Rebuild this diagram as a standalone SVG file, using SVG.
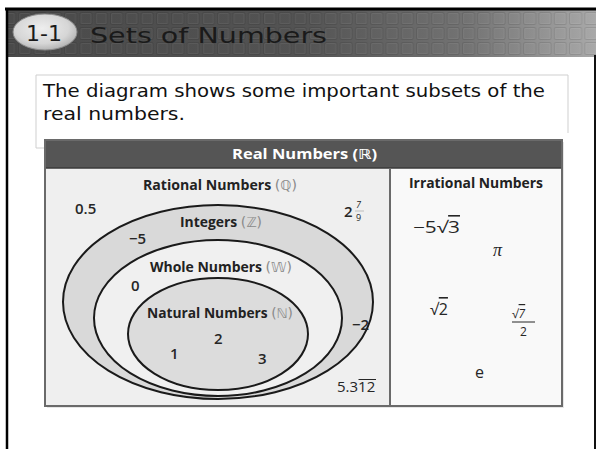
<svg xmlns="http://www.w3.org/2000/svg" width="596" height="449" viewBox="0 0 596 449">
<defs>
<linearGradient id="hg" x1="0" y1="0" x2="1" y2="0">
<stop offset="0" stop-color="#4a4a4a"/>
<stop offset="0.5" stop-color="#535353"/>
<stop offset="0.78" stop-color="#737373"/>
<stop offset="1" stop-color="#a9a9a9"/>
</linearGradient>
<radialGradient id="pg" cx="0.45" cy="0.4" r="0.6">
<stop offset="0" stop-color="#eeeeee"/>
<stop offset="0.7" stop-color="#d6d6d6"/>
<stop offset="1" stop-color="#b5b5b5"/>
</radialGradient>
<pattern id="grid" patternUnits="userSpaceOnUse" x="2" y="11" width="15.3" height="15">
<rect x="1.5" y="1.5" width="12" height="12" rx="1.5" fill="none" stroke="#000" stroke-opacity="0.1"/>
<rect x="2.5" y="2.5" width="10" height="10" rx="1" fill="none" stroke="#fff" stroke-opacity="0.06"/>
</pattern>
<style>
.ttl{font-family:"DejaVu Sans",Verdana,sans-serif;fill:#1a1a1a}
.body{font-family:"DejaVu Sans",Verdana,sans-serif;font-size:17.5px;fill:#111}
.lbl{font-family:"Open Sans","Noto Sans",sans-serif;font-weight:bold;font-size:13.5px;fill:#222}
.sym{font-family:"DejaVu Sans",sans-serif;font-weight:normal;fill:#8a8a8a}
.num{font-family:"Open Sans","Noto Sans",sans-serif;font-size:15px;font-weight:600;fill:#262626}
.irr{font-family:"Open Sans","Noto Sans",sans-serif;font-size:16px;fill:#262626}
.ov{text-decoration:overline}
.ell{stroke:#1a1a1a;stroke-width:2}
</style>
</defs>

<g id="header">
<rect x="8" y="10" width="588" height="47" fill="url(#hg)"/>
<rect x="8" y="10" width="588" height="47" fill="url(#grid)"/>
<line x1="5" y1="9" x2="596" y2="9" stroke="#000" stroke-width="3"/>
<line x1="7" y1="8" x2="7" y2="449" stroke="#000" stroke-width="2.5"/>
<line x1="595" y1="55" x2="595" y2="449" stroke="#111" stroke-width="2"/>
<ellipse cx="45" cy="32" rx="32" ry="18" fill="url(#pg)" stroke="#8a8a8a" stroke-width="1"/>
<text class="ttl" x="44" y="41" font-size="22" text-anchor="middle">1-1</text>
<text class="ttl" x="90" y="43" font-size="22" textLength="237" lengthAdjust="spacingAndGlyphs">Sets of Numbers</text>
</g>

<g id="textbox">
<polyline points="45,148 36,148 36,75 568,75 568,133" fill="none" stroke="#cfcfcf" stroke-width="1"/>
<text class="body" x="43" y="97" textLength="502" lengthAdjust="spacingAndGlyphs">The diagram shows some important subsets of the</text>
<text class="body" x="43" y="120" textLength="142" lengthAdjust="spacingAndGlyphs">real numbers.</text>
</g>

<g id="table">
<rect x="47" y="142" width="517" height="266" fill="#e6e6e6"/>
<rect x="45" y="140" width="345" height="266" fill="#efefef"/>
<rect x="390" y="140" width="172" height="266" fill="#f9f9f9"/>
<rect x="45" y="140" width="517" height="28" fill="#555" stroke="#3a3a3a" stroke-width="1.5"/>
<rect x="45" y="140" width="517" height="266" fill="none" stroke="#6a6a6a" stroke-width="2"/>
<line x1="390" y1="168" x2="390" y2="406" stroke="#6a6a6a" stroke-width="2"/>
<text class="lbl" x="232" y="159" textLength="145" lengthAdjust="spacingAndGlyphs" style="fill:#fff;font-size:14px">Real Numbers (<tspan class="sym" style="fill:#fff;font-weight:bold">ℝ</tspan>)</text>
</g>

<g id="rational">
<text class="lbl" x="143" y="190" textLength="154" lengthAdjust="spacingAndGlyphs">Rational Numbers <tspan class="sym">(ℚ)</tspan></text>
<text class="num" x="75" y="214">0.5</text>
<text class="num" x="344" y="217">2</text>
<text class="num" x="356" y="208" style="font-size:9px;font-weight:normal;font-style:italic">7</text>
<line x1="355" y1="211" x2="364" y2="211" stroke="#888" stroke-width="0.5"/>
<text class="num" x="356" y="221" style="font-size:9px;font-weight:normal">9</text>
<text class="num" x="337" y="392" style="font-weight:normal">5.312</text>
<line x1="358.5" y1="379.5" x2="376" y2="379.5" stroke="#262626" stroke-width="1"/>
</g>

<g id="integers">
<ellipse class="ell" cx="218" cy="302" rx="155" ry="97" fill="#d9d9d9"/>
<text class="lbl" x="180" y="227" textLength="82" lengthAdjust="spacingAndGlyphs">Integers <tspan class="sym">(ℤ)</tspan></text>
<text class="num" x="129" y="244">−5</text>
<text class="num" x="352" y="330">−2</text>
</g>

<g id="whole">
<ellipse class="ell" cx="218" cy="318" rx="124" ry="78" fill="#f0f0f0"/>
<text class="lbl" x="150" y="272" textLength="142" lengthAdjust="spacingAndGlyphs">Whole Numbers <tspan class="sym">(𝕎)</tspan></text>
<text class="num" x="131" y="291">0</text>
</g>

<g id="natural">
<ellipse class="ell" cx="218" cy="334" rx="90" ry="56" fill="#dcdcdc"/>
<text class="lbl" x="147" y="318" textLength="146" lengthAdjust="spacingAndGlyphs">Natural Numbers <tspan class="sym">(ℕ)</tspan></text>
<text class="num" x="214" y="344">2</text>
<text class="num" x="170" y="359">1</text>
<text class="num" x="258" y="364">3</text>
</g>

<g id="irrational">
<text class="lbl" x="409" y="188" textLength="134" lengthAdjust="spacingAndGlyphs">Irrational Numbers</text>
<text class="irr" x="413" y="233" textLength="47" lengthAdjust="spacingAndGlyphs">−5√<tspan class="ov">3</tspan></text>
<text class="irr" x="493" y="256" style="font-family:'Liberation Serif',serif;font-style:italic;font-size:18px">π</text>
<text class="irr" x="430" y="315">√<tspan class="ov">2</tspan></text>
<text class="irr" x="512" y="318" style="font-size:12px">√<tspan class="ov" font-style="italic">7</tspan></text>
<line x1="512" y1="322" x2="535" y2="322" stroke="#262626" stroke-width="1"/>
<text class="irr" x="523.5" y="336" text-anchor="middle" style="font-size:12px">2</text>
<text class="irr" x="475" y="378">e</text>
</g>
</svg>
